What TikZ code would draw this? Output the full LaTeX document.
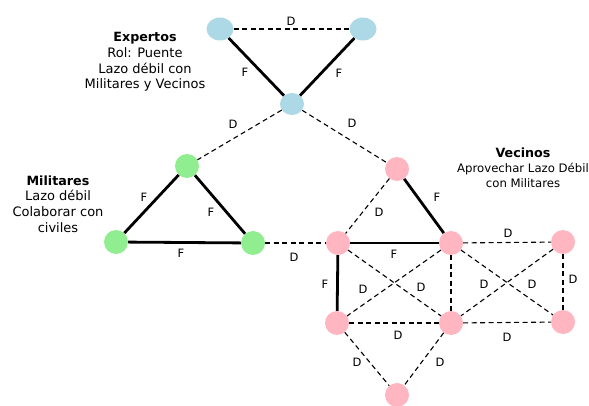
\documentclass[tikz,border=0pt]{standalone}
\usepackage{fontspec}
\setmainfont{DejaVu Sans}
\usetikzlibrary{shapes.geometric}
\definecolor{nblue}{HTML}{ADD8E6}
\definecolor{ngreen}{HTML}{90EE90}
\definecolor{npink}{HTML}{FFB6C1}
\tikzset{
  vtx/.style={circle, draw=none, inner sep=0pt, minimum size=24pt},
  bigv/.style={ellipse, draw=none, inner sep=0pt, minimum width=27pt, minimum height=23pt},
  bluev/.style={fill=nblue},
  greenv/.style={fill=ngreen},
  pinkv/.style={fill=npink},
  strong/.style={line width=2.8pt, black},
  weak/.style={line width=1.1pt, black, dash pattern=on 5pt off 3.5pt},
  lbl/.style={font=\fontsize{11.5}{13}\selectfont, inner sep=0pt},
  infotxt/.style={align=center, inner sep=0pt, font=\fontsize{13}{15.7}\selectfont}
}
\begin{document}
\begin{tikzpicture}[x=1pt,y=-1pt]
\useasboundingbox (0,0) rectangle (589,406);
% nodes
\node[bigv,bluev] (b1) at (220,29) {};
\node[bigv,bluev] (b2) at (363,29) {};
\node[vtx,bluev,minimum width=24pt,minimum height=22pt,ellipse] (b3) at (292,104) {};
\node[vtx,greenv] (g1) at (187,166) {};
\node[vtx,greenv] (g2) at (116,242) {};
\node[vtx,greenv] (g3) at (253,243) {};
\node[vtx,pinkv] (p1) at (397,169) {};
\node[vtx,pinkv] (p2) at (338,243) {};
\node[vtx,pinkv] (p3) at (451,243) {};
\node[vtx,pinkv] (p4) at (563,242) {};
\node[vtx,pinkv] (p5) at (337,323) {};
\node[vtx,pinkv] (p6) at (451,323) {};
\node[vtx,pinkv] (p7) at (563,322) {};
\node[vtx,pinkv] (p8) at (397,395) {};
% edges
\draw[weak] (b1) -- (b2);
\draw[strong] (b1) -- (b3);
\draw[strong] (b2) -- (b3);
\draw[weak] (b3) -- (g1);
\draw[weak] (b3) -- (p1);
\draw[strong] (g1) -- (g2);
\draw[strong] (g1) -- (g3);
\draw[strong] (g2) -- (g3);
\draw[weak] (g3) -- (p2);
\draw[weak] (p1) -- (p2);
\draw[strong] (p1) -- (p3);
\draw[strong] (p2) -- (p3);
\draw[weak] (p3) -- (p4);
\draw[strong] (p2) -- (p5);
\draw[weak] (p2) -- (p6);
\draw[weak] (p3) -- (p5);
\draw[weak] (p3) -- (p6);
\draw[weak] (p3) -- (p7);
\draw[weak] (p4) -- (p6);
\draw[weak] (p4) -- (p7);
\draw[weak] (p5) -- (p6);
\draw[weak] (p6) -- (p7);
\draw[weak] (p5) -- (p8);
\draw[weak] (p6) -- (p8);
% edge labels
\node[lbl] (l1) at (291,21) {D};
\node[lbl] (l2) at (245,72) {F};
\node[lbl] (l3) at (339,73) {F};
\node[lbl] (l4) at (233,124) {D};
\node[lbl] (l5) at (352,123) {D};
\node[lbl] (l6) at (144,197) {F};
\node[lbl] (l7) at (211,212) {F};
\node[lbl] (l8) at (181,253) {F};
\node[lbl] (l9) at (294,257) {D};
\node[lbl] (l10) at (379,212) {D};
\node[lbl] (l11) at (437,197) {F};
\node[lbl] (l12) at (394,254) {F};
\node[lbl] (l13) at (508,233) {D};
\node[lbl] (l14) at (573,279) {D};
\node[lbl] (l15) at (325,284) {F};
\node[lbl] (l16) at (363,289) {D};
\node[lbl] (l17) at (421,287) {D};
\node[lbl] (l18) at (484,284) {D};
\node[lbl] (l19) at (532,284) {D};
\node[lbl] (l20) at (398,335) {D};
\node[lbl] (l21) at (507,337) {D};
\node[lbl] (l22) at (357,362) {D};
\node[lbl] (l23) at (440,362) {D};
% texts
\node[infotxt] (texp) at (145,62) {{\fontsize{12.7}{15.7}\selectfont\bfseries Expertos}\\Rol: Puente\\Lazo débil con\\Militares y Vecinos};
\node[infotxt] (tmil) at (58,204) {{\fontsize{12.7}{15.7}\selectfont\bfseries Militares}\\Lazo débil\\Colaborar con\\civiles};
\node[infotxt, font=\fontsize{11.7}{15}\selectfont] (tvec) at (523,168) {{\fontsize{12.7}{15}\selectfont\bfseries Vecinos}\\Aprovechar Lazo Débil\\con Militares};
\end{tikzpicture}
\end{document}
